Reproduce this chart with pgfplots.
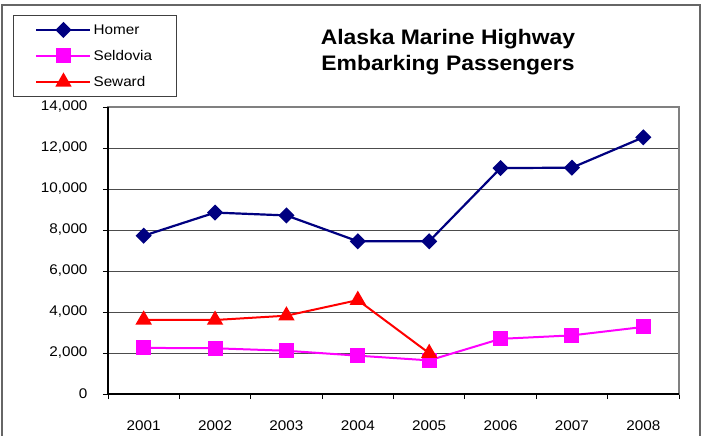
\documentclass[border=0pt]{standalone}
\usepackage{fontspec}
\setmainfont{Liberation Sans}[FakeStretch=1.09]
\usepackage{pgfplots}
\pgfplotsset{compat=1.18}
\definecolor{homer}{RGB}{0,0,128}
\definecolor{seldovia}{RGB}{255,0,255}
\definecolor{seward}{RGB}{255,0,0}
\begin{document}
\begin{tikzpicture}
\useasboundingbox (0,0) rectangle (705bp,436bp);
\draw[black!60, line width=1.3bp] (2bp,-5bp) -- (2bp,431bp) -- (700bp,431bp) -- (700bp,-5bp);
\begin{axis}[
  at={(108bp,42bp)}, anchor=south west,
  scale only axis, width=571bp, height=287bp,
  xmin=0.5, xmax=8.5, ymin=0, ymax=14000,
  xtick={0.5,1.5,...,8.5},
  xticklabels={2001,2002,2003,2004,2005,2006,2007,2008},
  x tick label as interval,
  xtick pos=bottom, ytick pos=left,
  ytick={0,2000,...,14000},
  ymajorgrids,
  major grid style={black!70, line width=0.8bp},
  tick align=outside,
  major tick length=5bp,
  tick style={black, line width=0.8bp},
  axis line style={black!50, line width=1.3bp},
  /pgf/number format/assume math mode=true,
  /pgf/number format/1000 sep={,},
  scaled y ticks=false,
  tick label style={font=\fontsize{14bp}{16bp}\selectfont},
  xticklabel style={yshift=-18.5bp},
  yticklabel style={xshift=-12bp},
  clip=false,
  legend style={at={(-0.1664,1.3206)}, anchor=north west, draw=black!75, line width=0.8bp,
    font=\fontsize{14bp}{16bp}\selectfont, inner xsep=22bp, inner ysep=7bp, row sep=10.5bp},
  legend cell align=left,
  legend image code/.code={\draw[mark repeat=2,mark phase=2] plot coordinates {(0bp,0bp)(27bp,0bp)(54bp,0bp)};},
]
\addplot[homer, line width=2.2bp, mark=square*, mark size=4.6bp, mark options={rotate=45, solid}]
  coordinates {(1,7720)(2,8850)(3,8710)(4,7450)(5,7450)(6,11020)(7,11040)(8,12520)};
\addlegendentry{Homer}
\addplot[seldovia, line width=2bp, mark=square*, mark size=6.5bp, mark options={solid}]
  coordinates {(1,2250)(2,2230)(3,2110)(4,1870)(5,1640)(6,2690)(7,2860)(8,3270)};
\addlegendentry{Seldovia}
\addplot[seward, line width=2bp, mark=triangle*, mark size=7.5bp, mark options={solid}]
  coordinates {(1,3620)(2,3610)(3,3820)(4,4580)(5,1990)};
\addlegendentry{Seward}
\draw[black, line width=1.3bp] (rel axis cs:0,1) -- (rel axis cs:0,0) -- (rel axis cs:1,0);
\end{axis}
\node[align=center, font=\fontsize{21bp}{26bp}\selectfont\bfseries, anchor=base] at (448bp,436bp-44.3bp)
  {Alaska Marine Highway};
\node[align=center, font=\fontsize{21bp}{26bp}\selectfont\bfseries, anchor=base] at (448bp,436bp-70.3bp)
  {Embarking Passengers};
\end{tikzpicture}
\end{document}
